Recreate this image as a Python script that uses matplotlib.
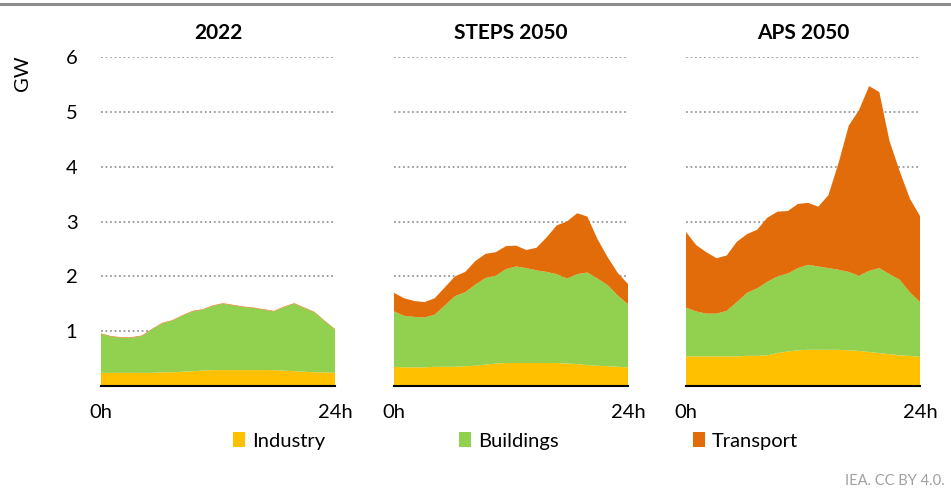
import numpy as np
import matplotlib
matplotlib.use("Agg")
import matplotlib.pyplot as plt
from matplotlib.lines import Line2D
from matplotlib.patches import Patch

plt.rcParams["font.family"] = ["Lato", "DejaVu Sans"]

hours = np.arange(24)
panels = ["2022", "STEPS 2050", "APS 2050"]
sectors = ["Industry", "Buildings", "Transport"]
colors = {"Industry": "#FFC000", "Buildings": "#92D050", "Transport": "#E36C0A"}

# hourly demand by sector, GW
industry_2022 = [0.24, 0.24, 0.24, 0.24, 0.24, 0.24, 0.25, 0.25, 0.26, 0.27, 0.28, 0.29,
                 0.29, 0.29, 0.29, 0.29, 0.29, 0.29, 0.28, 0.27, 0.26, 0.25, 0.25, 0.24]
buildings_2022 = [0.71, 0.66, 0.64, 0.64, 0.67, 0.79, 0.89, 0.94, 1.02, 1.09, 1.11, 1.17,
                  1.21, 1.18, 1.15, 1.13, 1.10, 1.07, 1.16, 1.23, 1.16, 1.09, 0.93, 0.79]
transport_2022 = [0.01] * 24

industry_steps = [0.35, 0.34, 0.34, 0.34, 0.35, 0.35, 0.35, 0.36, 0.37, 0.39, 0.41, 0.42,
                  0.42, 0.42, 0.42, 0.42, 0.42, 0.41, 0.40, 0.38, 0.37, 0.36, 0.35, 0.34]
buildings_steps = [1.01, 0.94, 0.92, 0.91, 0.95, 1.12, 1.29, 1.35, 1.48, 1.58, 1.60, 1.71,
                   1.76, 1.73, 1.69, 1.66, 1.62, 1.55, 1.64, 1.69, 1.59, 1.48, 1.30, 1.15]
transport_steps = [0.34, 0.32, 0.29, 0.28, 0.30, 0.33, 0.36, 0.37, 0.43, 0.44, 0.43, 0.42,
                   0.38, 0.33, 0.41, 0.63, 0.89, 1.04, 1.11, 1.02, 0.72, 0.51, 0.41, 0.37]

industry_aps = [0.54, 0.54, 0.54, 0.54, 0.54, 0.54, 0.55, 0.55, 0.56, 0.60, 0.63, 0.65,
                0.66, 0.66, 0.66, 0.66, 0.65, 0.64, 0.62, 0.60, 0.58, 0.56, 0.55, 0.53]
buildings_aps = [0.89, 0.82, 0.78, 0.78, 0.83, 0.99, 1.15, 1.23, 1.34, 1.40, 1.42, 1.50,
                 1.55, 1.52, 1.49, 1.46, 1.43, 1.37, 1.48, 1.55, 1.46, 1.38, 1.16, 1.00]
transport_aps = [1.38, 1.21, 1.12, 1.01, 1.01, 1.10, 1.07, 1.07, 1.17, 1.18, 1.14, 1.17,
                 1.13, 1.09, 1.33, 1.95, 2.67, 3.02, 3.37, 3.21, 2.43, 1.98, 1.71, 1.57]

series = [
    (industry_2022, buildings_2022, transport_2022),
    (industry_steps, buildings_steps, transport_steps),
    (industry_aps, buildings_aps, transport_aps),
]

W, H = 951, 490
fig = plt.figure(figsize=(W / 100, H / 100), dpi=100)
lefts = [101, 394, 686]
pw = 234
y0, y1 = 386, 57

for i, (title, layers) in enumerate(zip(panels, series)):
    ax = fig.add_axes([lefts[i] / W, 1 - y0 / H, pw / W, (y0 - y1) / H])
    ax.stackplot(hours, *layers, colors=[colors[s] for s in sectors], lw=0)
    ax.set_xlim(0, 23)
    ax.set_ylim(0, 6)
    ax.set_yticks([1, 2, 3, 4, 5, 6])
    ax.set_axisbelow(True)
    ax.grid(axis="y", ls=(0, (1, 1.5)), lw=1.3, color="#999999")
    for s in ("top", "right", "left"):
        ax.spines[s].set_visible(False)
    ax.spines["bottom"].set_color("black")
    ax.spines["bottom"].set_linewidth(1.5)
    ax.set_xticks([0, 23])
    ax.set_xticklabels(["0h", "24h"])
    ax.tick_params(axis="x", length=0, pad=13, labelsize=14.5)
    ax.tick_params(axis="y", length=0, pad=17, labelsize=14.5, labelleft=(i == 0))
    ax.set_title(title, fontsize=15, fontweight="bold", pad=13)
    if i == 0:
        ax.set_ylabel("GW", fontsize=14.5)
        ax.yaxis.set_label_coords(-0.30, 0.95)

fig.add_artist(Line2D([0, 1], [1 - 4 / H, 1 - 4 / H], transform=fig.transFigure,
                      color="#8c8c8c", lw=2.2))

handles = [Patch(facecolor=colors[s], edgecolor="none", label=s) for s in sectors]
fig.legend(handles=handles, loc="center", bbox_to_anchor=(0.542, 1 - 441 / H), ncol=3,
           frameon=False, fontsize=14.5, handlelength=0.6, handleheight=0.75,
           handletextpad=0.35, columnspacing=6.65)

fig.text(945 / W, 1 - 481 / H, "IEA. CC BY 4.0.", ha="right", va="center",
         fontsize=10.5, color="#a0a0a0")

fig.savefig("out.png", dpi=100)
